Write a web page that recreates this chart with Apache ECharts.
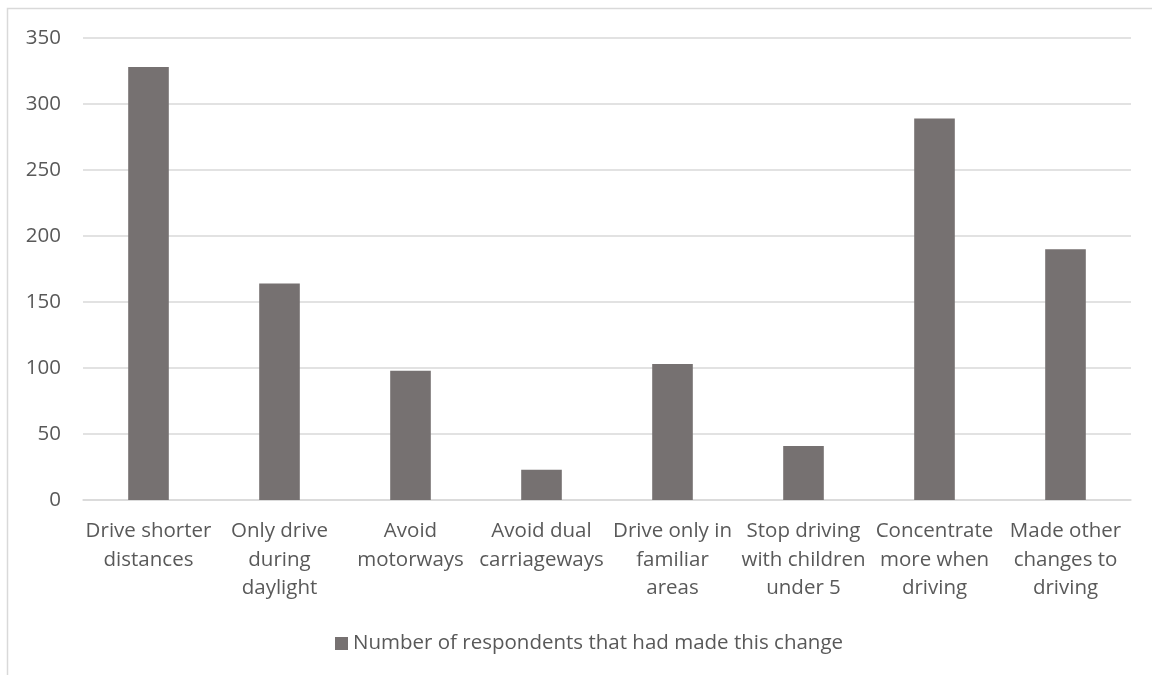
<!DOCTYPE html>
<html>
<head>
<meta charset="utf-8">
<script src="https://cdn.jsdelivr.net/npm/echarts@6/dist/echarts.min.js"></script>
<style>
html,body{margin:0;padding:0;background:#fff;}
#chart{width:1152px;height:675px;}
</style>
</head>
<body>
<div id="chart"></div>
<script>
const categories = [
  'Drive shorter\ndistances',
  'Only drive\nduring\ndaylight',
  'Avoid\nmotorways',
  'Avoid dual\ncarriageways',
  'Drive only in\nfamiliar\nareas',
  'Stop driving\nwith children\nunder 5',
  'Concentrate\nmore when\ndriving',
  'Made other\nchanges to\ndriving'
];
const seriesName = 'Number of respondents that had made this change';
const values = [328, 164, 98, 23, 103, 41, 289, 190];
const yTicks = {min: 0, max: 350, interval: 50};

const FONT = '"Open Sans", sans-serif';
const TXT = '#595959';
const FS = 20.5;
const chart = echarts.init(document.getElementById('chart'), null, {renderer: 'canvas'});
chart.setOption({
  animation: false,
  backgroundColor: '#fff',
  graphic: [{
    type: 'rect',
    shape: {x: 7.5, y: 8.5, width: 1300, height: 800},
    style: {fill: 'none', stroke: '#d9d9d9', lineWidth: 1.5},
    silent: true
  }],
  grid: {left: 83, right: 21, top: 38, bottom: 175, containLabel: false},
  legend: {
    data: [seriesName],
    bottom: 16,
    left: 330,
    icon: 'rect',
    itemWidth: 13,
    itemHeight: 13,
    itemGap: 6,
    textStyle: {color: TXT, fontFamily: FONT, fontSize: FS}
  },
  xAxis: {
    type: 'category',
    data: categories,
    axisLine: {show: true, lineStyle: {color: '#d9d9d9', width: 1.5}},
    axisTick: {show: false},
    axisLabel: {
      color: TXT, fontFamily: FONT, fontSize: FS, lineHeight: 28.5,
      interval: 0, margin: 17
    }
  },
  yAxis: {
    type: 'value',
    min: yTicks.min, max: yTicks.max, interval: yTicks.interval,
    axisLine: {show: false},
    axisTick: {show: false},
    splitLine: {lineStyle: {color: '#d9d9d9', width: 1.5}},
    axisLabel: {color: TXT, fontFamily: FONT, fontSize: FS, margin: 22}
  },
  series: [{
    name: seriesName,
    type: 'bar',
    data: values,
    barWidth: '31%',
    itemStyle: {color: '#767171'}
  }]
});
</script>
</body>
</html>
